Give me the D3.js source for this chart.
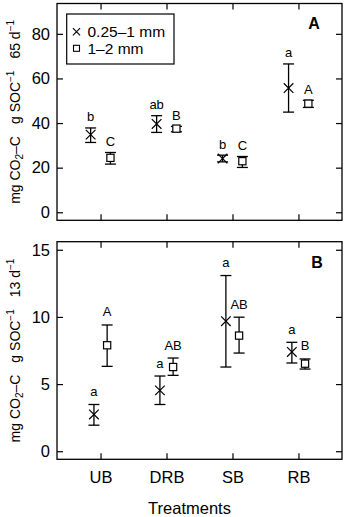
<!DOCTYPE html>
<html><head><meta charset="utf-8">
<script src="https://cdn.jsdelivr.net/npm/d3@7"></script>
<style>body{margin:0;background:#fff}svg{display:block}text{font-family:"Liberation Sans",Arial,Helvetica,sans-serif;fill:#000}</style>
</head><body>
<script>
const categories = ["UB", "DRB", "SB", "RB"];
const seriesNames = ["0.25–1 mm", "1–2 mm"];

// Panel A: 65 d
const aFineMean = [34.8, 39.6, 24.1, 55.7];
const aFineLo   = [31.3, 35.8, 22.6, 44.9];
const aFineHi   = [37.8, 43.3, 25.6, 66.5];
const aFineLetters = ["b", "ab", "b", "a"];
const aCoarseMean = [24.4, 37.5, 22.9, 48.7];
const aCoarseLo   = [21.6, 36.1, 20.1, 47.0];
const aCoarseHi   = [26.8, 38.5, 25.0, 50.2];
const aCoarseLetters = ["C", "B", "C", "A"];
const aTicks = [0, 20, 40, 60, 80];

// Panel B: 13 d
const bFineMean = [2.74, 4.53, 9.68, 7.39];
const bFineLo   = [1.94, 3.48, 6.27, 6.57];
const bFineHi   = [3.48, 5.60, 13.08, 8.11];
const bFineLetters = ["a", "a", "a", "a"];
const bCoarseMean = [7.89, 6.27, 8.61, 6.52];
const bCoarseLo   = [6.32, 5.65, 7.31, 6.12];
const bCoarseHi   = [9.40, 6.94, 9.98, 6.87];
const bCoarseLetters = ["A", "AB", "AB", "B"];
const bTicks = [0, 5, 10, 15];

const W = 346, H = 517;
const svg = d3.select("body").append("svg").attr("width", W).attr("height", H);

const x = d3.scaleLinear().domain([0.34, 4.66]).range([57, 342]);

function panel(cfg) {
  const y = d3.scaleLinear().domain(cfg.domain).range([cfg.bottom, cfg.top]);
  const g = svg.append("g");
  const xl = x.range()[0], xr = x.range()[1];
  g.append("rect").attr("x", xl).attr("y", cfg.top).attr("width", xr - xl).attr("height", cfg.bottom - cfg.top)
    .attr("fill", "none").attr("stroke", "#000").attr("stroke-width", 1.3);
  const axL = g.append("g").attr("transform", `translate(${xl},0)`)
    .call(d3.axisLeft(y).tickValues(cfg.ticks).tickSizeInner(-6).tickSizeOuter(0).tickPadding(7));
  const axR = g.append("g").attr("transform", `translate(${xr},0)`)
    .call(d3.axisRight(y).tickValues(cfg.ticks).tickSizeInner(-6).tickSizeOuter(0).tickFormat(""));
  const axT = g.append("g").attr("transform", `translate(0,${cfg.top})`)
    .call(d3.axisTop(x).tickValues([1, 2, 3, 4]).tickSizeInner(-6).tickSizeOuter(0).tickFormat(""));
  const axB = g.append("g").attr("transform", `translate(0,${cfg.bottom})`)
    .call(d3.axisBottom(x).tickValues([1, 2, 3, 4]).tickSizeInner(-6).tickSizeOuter(0)
      .tickFormat(cfg.showX ? (d => categories[d - 1]) : "").tickPadding(12));
  [axL, axR, axT, axB].forEach(a => {
    a.select(".domain").remove();
    a.selectAll(".tick line").attr("stroke", "#000").attr("stroke-width", 1.2);
    a.selectAll("text").attr("font-size", 16.5).attr("font-family", "Liberation Sans, Arial, sans-serif").attr("fill", "#000");
  });
  axB.selectAll("text").attr("dy", "0.71em");

  const series = [
    { mean: cfg.fineMean, lo: cfg.fineLo, hi: cfg.fineHi, letters: cfg.fineLetters, off: -cfg.off, sym: "x" },
    { mean: cfg.coarseMean, lo: cfg.coarseLo, hi: cfg.coarseHi, letters: cfg.coarseLetters, off: cfg.off, sym: "sq" }
  ];
  series.forEach(s => {
    const data = categories.map((c, i) => ({ i, mean: s.mean[i], lo: s.lo[i], hi: s.hi[i], letter: s.letters[i] }));
    const gg = g.append("g");
    const cx = d => x(d.i + 1 + s.off);
    const cap = 5.5;
    gg.selectAll(".v").data(data).enter().append("line")
      .attr("x1", cx).attr("x2", cx).attr("y1", d => y(d.lo)).attr("y2", d => y(d.hi))
      .attr("stroke", "#000").attr("stroke-width", 1.3);
    gg.selectAll(".ct").data(data).enter().append("line")
      .attr("x1", d => cx(d) - cap).attr("x2", d => cx(d) + cap).attr("y1", d => y(d.hi)).attr("y2", d => y(d.hi))
      .attr("stroke", "#000").attr("stroke-width", 1.3);
    gg.selectAll(".cb").data(data).enter().append("line")
      .attr("x1", d => cx(d) - cap).attr("x2", d => cx(d) + cap).attr("y1", d => y(d.lo)).attr("y2", d => y(d.lo))
      .attr("stroke", "#000").attr("stroke-width", 1.3);
    if (s.sym === "x") {
      const r = 4.8;
      gg.selectAll(".m").data(data).enter().append("path")
        .attr("d", d => `M${cx(d) - r},${y(d.mean) - r}L${cx(d) + r},${y(d.mean) + r}M${cx(d) - r},${y(d.mean) + r}L${cx(d) + r},${y(d.mean) - r}`)
        .attr("stroke", "#000").attr("stroke-width", 1.2).attr("fill", "none");
    } else {
      const r = 3.6;
      gg.selectAll(".m").data(data).enter().append("rect")
        .attr("x", d => cx(d) - r).attr("y", d => y(d.mean) - r).attr("width", 2 * r).attr("height", 2 * r)
        .attr("stroke", "#000").attr("stroke-width", 1.2).attr("fill", "#fff");
    }
    gg.selectAll(".l").data(data).enter().append("text")
      .attr("x", cx).attr("y", d => y(d.hi) - cfg.letterGap)
      .attr("text-anchor", "middle").attr("font-size", 13).text(d => d.letter);
  });
  g.append("text").attr("x", cfg.tagX).attr("y", cfg.top + cfg.tagDy).attr("text-anchor", "middle")
    .attr("font-size", 16).attr("font-weight", "bold").text(cfg.tag);
  const cy = (cfg.top + cfg.bottom) / 2;
  const t = g.append("text").attr("transform", `translate(20,${cy}) rotate(-90)`).attr("text-anchor", "middle").attr("font-size", 14);
  t.append("tspan").text("mg CO");
  t.append("tspan").attr("font-size", 10).attr("dy", 3).text("2");
  t.append("tspan").attr("dy", -3).text("–C");
  t.append("tspan").attr("dx", 12).text("g SOC");
  t.append("tspan").attr("font-size", 10).attr("dy", -6).text("−1");
  t.append("tspan").attr("dy", 6).attr("dx", 12).text(cfg.days + " d");
  t.append("tspan").attr("font-size", 10).attr("dy", -6).text("−1");
  return { g, y };
}

panel({
  top: 3.5, bottom: 220.3, domain: [-3.6, 93.6], ticks: aTicks, showX: false, off: 0.15,
  fineMean: aFineMean, fineLo: aFineLo, fineHi: aFineHi, fineLetters: aFineLetters,
  coarseMean: aCoarseMean, coarseLo: aCoarseLo, coarseHi: aCoarseHi, coarseLetters: aCoarseLetters,
  letterGap: 6.5, tag: "A", tagX: 314, tagDy: 25, days: "65"
});
panel({
  top: 241.7, bottom: 459.3, domain: [-0.6, 15.6], ticks: bTicks, showX: true, off: 0.1,
  fineMean: bFineMean, fineLo: bFineLo, fineHi: bFineHi, fineLetters: bFineLetters,
  coarseMean: bCoarseMean, coarseLo: bCoarseLo, coarseHi: bCoarseHi, coarseLetters: bCoarseLetters,
  letterGap: 8.5, tag: "B", tagX: 317, tagDy: 26, days: "13"
});

// legend
const lg = svg.append("g");
lg.append("rect").attr("x", 66.7).attr("y", 14).attr("width", 107.3).attr("height", 50)
  .attr("fill", "#fff").attr("stroke", "#000").attr("stroke-width", 1.2);
seriesNames.forEach((name, i) => {
  const yy = 31.7 + i * 16.6;
  const sx = 76.5;
  if (i === 0) {
    const r = 3.6;
    lg.append("path").attr("d", `M${sx - r},${yy - r}L${sx + r},${yy + r}M${sx - r},${yy + r}L${sx + r},${yy - r}`)
      .attr("stroke", "#000").attr("stroke-width", 1.1);
  } else {
    lg.append("rect").attr("x", sx - 3).attr("y", yy - 3).attr("width", 6).attr("height", 6)
      .attr("fill", "#fff").attr("stroke", "#000").attr("stroke-width", 1.1);
  }
  lg.append("text").attr("x", 87.5).attr("y", yy).attr("dy", "0.36em").attr("font-size", 15.5).text(name);
});

svg.append("text").attr("x", 189.5).attr("y", 514).attr("text-anchor", "middle").attr("font-size", 16.5).text("Treatments");
</script>
</body></html>
